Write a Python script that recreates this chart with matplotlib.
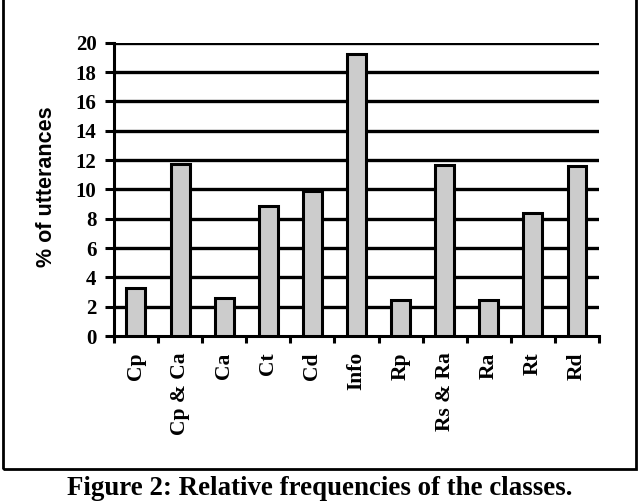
import numpy as np
import matplotlib.pyplot as plt
from matplotlib.patches import Rectangle

# Relative class frequencies (% of utterances)
classes = ['Cp', 'Cp & Ca', 'Ca', 'Ct', 'Cd', 'Info', 'Rp', 'Rs & Ra', 'Ra', 'Rt', 'Rd']
values = [3.3, 11.7, 2.6, 8.9, 9.9, 19.2, 2.45, 11.65, 2.45, 8.4, 11.6]
yticks = [0, 2, 4, 6, 8, 10, 12, 14, 16, 18, 20]

serif = 'Liberation Serif'
sans = 'Liberation Sans'

fig = plt.figure(figsize=(6.4, 5.03), dpi=100)
ax = fig.add_axes([0.178, 0.332, 0.758, 0.583])

x = np.arange(len(classes))
ax.bar(x, values, width=0.43, color='#cccccc', edgecolor='black', linewidth=2.2, zorder=3)

ax.set_ylim(0, 20)
ax.set_xlim(-0.5, len(classes) - 0.5)
ax.set_yticks(yticks)
ax.set_yticklabels([str(t) for t in yticks], fontfamily=serif, fontweight='bold', fontsize=15)
for t in yticks[1:]:
    ax.axhline(t, color='black', linewidth=2.4, zorder=1)

# ticks sit on the category boundaries, labels at the centres
ax.set_xticks(np.arange(len(classes) + 1) - 0.5)
ax.set_xticklabels([])
ax.tick_params(axis='x', direction='out', length=5, width=2.2)
ax.tick_params(axis='y', direction='out', length=6.5, width=2.2, pad=6)
for i, c in enumerate(classes):
    ax.text(i, -1.1, c, rotation=90, ha='center', va='top', fontfamily=serif,
            fontweight='bold', fontsize=15.5)

for s in ['top', 'right']:
    ax.spines[s].set_visible(False)
ax.spines['left'].set_linewidth(2.2)
ax.spines['bottom'].set_linewidth(2.2)

fig.text(0.072, 0.628, '% of utterances', rotation=90, ha='center', va='center',
         fontfamily=sans, fontweight='bold', fontsize=15.5)

# outer frame
fig.patches.append(Rectangle((0.004, 0.067), 0.99, 0.95, transform=fig.transFigure,
                             fill=False, edgecolor='black', linewidth=2))

# caption
fig.text(0.5, 0.003, 'Figure 2: Relative frequencies of the classes.', ha='center',
         va='bottom', fontfamily=serif, fontweight='bold', fontsize=19.4)

fig.savefig('out.png', dpi=100)
